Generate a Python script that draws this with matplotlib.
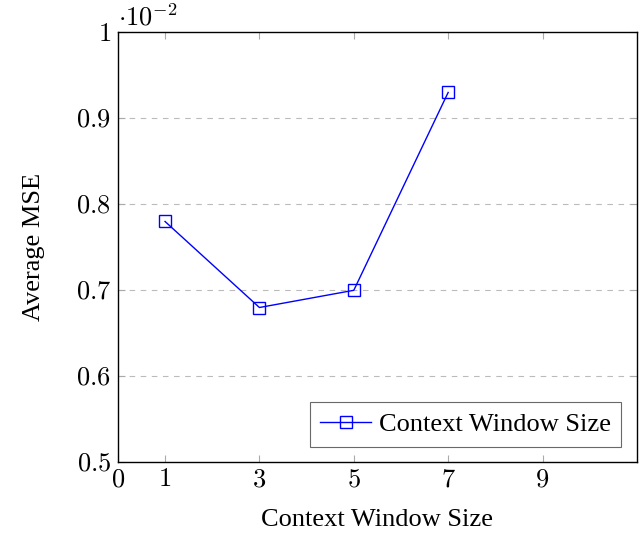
import numpy as np
import matplotlib.pyplot as plt

# data (MSE values, shown in units of 1e-2)
window_sizes = [1, 3, 5, 7]
avg_mse = [0.0078, 0.0068, 0.0070, 0.0093]
x_ticks = [0, 1, 3, 5, 7, 9]
y_ticks = [0.5, 0.6, 0.7, 0.8, 0.9, 1.0]
scale = 1e-2

plt.rcParams['mathtext.fontset'] = 'cm'
plt.rcParams['font.family'] = 'Liberation Serif'

fs = 19
fig = plt.figure(figsize=(6.44, 5.37), dpi=100)
ax = fig.add_axes([0.183, 0.139, 0.806, 0.801])

y_vals = np.array(avg_mse) / scale
ax.plot(window_sizes, y_vals, color='blue', lw=1.0, marker='s', markersize=8,
        markerfacecolor='none', markeredgecolor='blue', markeredgewidth=1.0,
        label='Context Window Size')

ax.set_xlim(0, 11)
ax.set_ylim(0.5, 1.0)
ax.set_xticks(x_ticks)
ax.set_xticklabels([f'${t}$' for t in x_ticks], fontsize=fs)
ax.set_yticks(y_ticks)
ax.set_yticklabels(['$0.5$', '$0.6$', '$0.7$', '$0.8$', '$0.9$', '$1$'], fontsize=fs)
ax.tick_params(direction='in', length=5, color='#aaaaaa', top=True, right=True, pad=5)

for y in y_ticks[1:-1]:
    ax.axhline(y, color='#bbbbbb', lw=0.8, ls=(0, (5, 5)), zorder=0)

for s in ax.spines.values():
    s.set_linewidth(1.0)

ax.text(0.0, 1.005, r'$\cdot 10^{-2}$', transform=ax.transAxes, fontsize=fs,
        ha='left', va='bottom')

ax.set_xlabel('Context Window Size', fontsize=fs, labelpad=13)
ax.set_ylabel('Average MSE', fontsize=fs, labelpad=22)

leg = ax.legend(loc='lower right', fontsize=fs, fancybox=False, edgecolor='#444444',
                handlelength=1.9, borderpad=0.4, handletextpad=0.3,
                borderaxespad=0.6)
leg.get_frame().set_linewidth(0.8)

fig.savefig('out.png', dpi=100)
